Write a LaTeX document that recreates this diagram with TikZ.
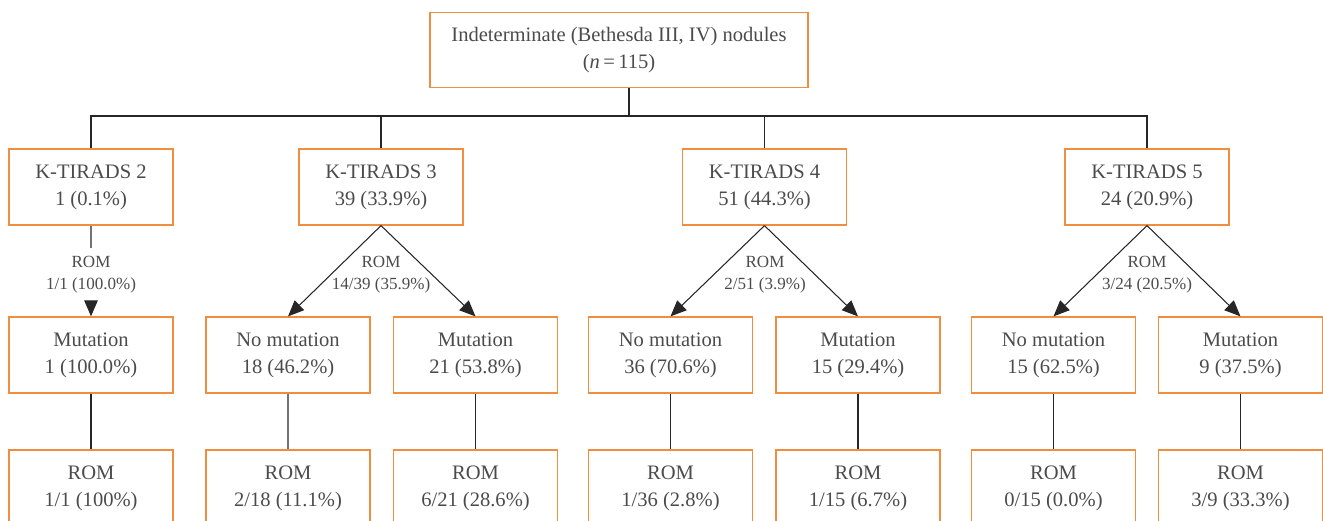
\documentclass[tikz,border=0pt]{standalone}
\usepackage{fontspec}
\setmainfont{Liberation Serif}
\usepackage{tikz}
\usetikzlibrary{positioning,arrows.meta}
\definecolor{bordo}{RGB}{241,141,62}
\definecolor{testo}{RGB}{75,75,75}

\begin{document}
\begin{tikzpicture}[
    box/.style={rectangle, draw=bordo, line width=0.7pt, align=center, text=testo,
      minimum width=3.28cm, minimum height=1.52cm, inner sep=0pt,
      font=\fontsize{11.7}{15.3}\selectfont},
    rom/.style={align=center, text=testo, inner xsep=0pt, inner ysep=0.16cm,
      font=\fontsize{9.7}{12.5}\selectfont},
    linea/.style={line width=0.6pt, black!85},
    freccia/.style={linea, -{Triangle[length=0.32cm,width=0.27cm]}}]
      \clip (0,0) rectangle (26.46,-10.42);

      % Radice
      \node (root) at (12.38,-1.0) [box, minimum width=7.56cm, minimum height=1.5cm]
        {Indeterminate (Bethesda III, IV) nodules\\(\textit{n}\,=\,115)};

      % Classi K-TIRADS
      \node (kt2) at (1.82,-3.74) [box] {K-TIRADS 2\\1 (0.1\%)};
      \node (kt3) at (7.62,-3.74) [box] {K-TIRADS 3\\39 (33.9\%)};
      \node (kt4) at (15.29,-3.74) [box] {K-TIRADS 4\\51 (44.3\%)};
      \node (kt5) at (22.94,-3.74) [box] {K-TIRADS 5\\24 (20.9\%)};

      % Mutazioni
      \node (mut2) at (1.82,-7.10) [box] {Mutation\\1 (100.0\%)};
      \node (nomut3) at (5.76,-7.10) [box] {No mutation\\18 (46.2\%)};
      \node (mut3) at (9.51,-7.10) [box] {Mutation\\21 (53.8\%)};
      \node (nomut4) at (13.41,-7.10) [box] {No mutation\\36 (70.6\%)};
      \node (mut4) at (17.16,-7.10) [box] {Mutation\\15 (29.4\%)};
      \node (nomut5) at (21.07,-7.10) [box] {No mutation\\15 (62.5\%)};
      \node (mut5) at (24.81,-7.10) [box] {Mutation\\9 (37.5\%)};

      % ROM finale
      \node (rom2) at (1.82,-9.76) [box] {ROM\\1/1 (100\%)};
      \node (romno3) at (5.76,-9.76) [box] {ROM\\2/18 (11.1\%)};
      \node (rom3) at (9.51,-9.76) [box] {ROM\\6/21 (28.6\%)};
      \node (romno4) at (13.41,-9.76) [box] {ROM\\1/36 (2.8\%)};
      \node (rom4) at (17.16,-9.76) [box] {ROM\\1/15 (6.7\%)};
      \node (romno5) at (21.07,-9.76) [box] {ROM\\0/15 (0.0\%)};
      \node (rom5) at (24.81,-9.76) [box] {ROM\\3/9 (33.3\%)};

      % Etichette ROM
      \node (lab2) at (1.82,-5.50) [rom] {ROM\\1/1 (100.0\%)};
      \node (lab3) at (7.62,-5.50) [rom] {ROM\\14/39 (35.9\%)};
      \node (lab4) at (15.30,-5.50) [rom] {ROM\\2/51 (3.9\%)};
      \node (lab5) at (22.94,-5.50) [rom] {ROM\\3/24 (20.5\%)};

      % Albero superiore
      \coordinate (top) at (12.58,-1.75);
      \coordinate (bar) at (12.58,-2.32);
      \draw[linea] (top) -- (bar);
      \draw[linea] (kt2.north) |- (bar) -| (kt5.north);
      \draw[linea] (kt3.north) -- (kt3.north |- bar);
      \draw[linea] (kt4.north) -- (kt4.north |- bar);

      % Frecce
      \draw[linea, black!55] (kt2) -- (lab2);
      \draw[freccia] (lab2) -- (mut2);
      \draw[freccia] (kt3.south) -- (nomut3.north);
      \draw[freccia] (kt3.south) -- (mut3.north);
      \draw[freccia] (kt4.south) -- (nomut4.north);
      \draw[freccia] (kt4.south) -- (mut4.north);
      \draw[freccia] (kt5.south) -- (nomut5.north);
      \draw[freccia] (kt5.south) -- (mut5.north);

      % Collegamenti verticali
      \draw[linea] (mut2) -- (rom2);
      \draw[linea, black!55] (nomut3) -- (romno3);
      \draw[linea] (mut3) -- (rom3);
      \draw[linea] (nomut4) -- (romno4);
      \draw[linea] (mut4) -- (rom4);
      \draw[linea] (nomut5) -- (romno5);
      \draw[linea] (mut5) -- (rom5);
    \end{tikzpicture}
\end{document}
